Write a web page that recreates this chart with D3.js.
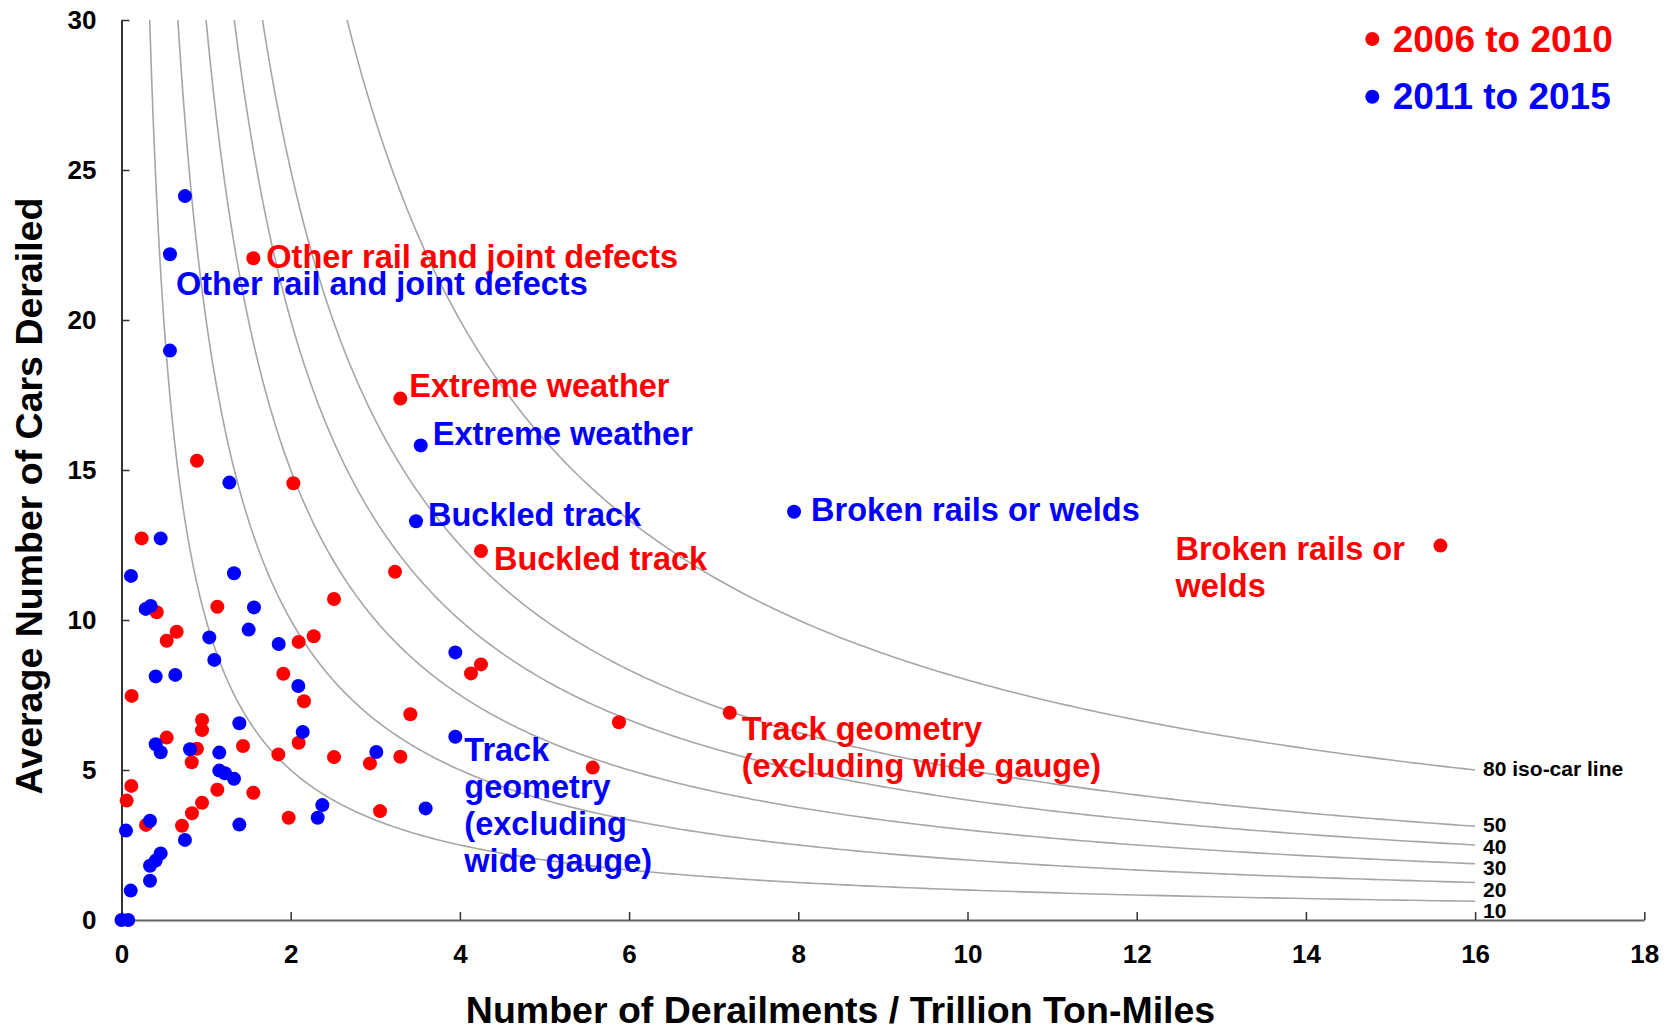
<!DOCTYPE html>
<html>
<head>
<meta charset="utf-8">
<script src="https://cdn.jsdelivr.net/npm/d3@7"></script>
<style>
  html, body { margin: 0; padding: 0; background: #fff; }
  svg { display: block; font-family: "Liberation Sans", Arial, sans-serif; font-weight: bold; }
</style>
</head>
<body>
<svg id="chart" width="1677" height="1031"></svg>
<script>
// ---------- DATA ----------
const xTicks = [0, 2, 4, 6, 8, 10, 12, 14, 16, 18];
const yTicks = [0, 5, 10, 15, 20, 25, 30];
const isoCarValues = [80, 50, 40, 30, 20, 10];
const isoCarLabels = ["80 iso-car line", "50", "40", "30", "20", "10"];
const seriesNames = ["2006 to 2010", "2011 to 2015"];

// 2006 to 2010 : [derailments per trillion ton-miles, average cars derailed]
const red2006 = [
  [1.558, 22.06], [3.296, 17.38], [0.892, 15.31], [2.031, 14.56], [4.249, 12.30],
  [0.238, 12.72], [3.233, 11.61], [2.512, 10.70], [0.416, 10.26], [1.133, 10.44],
  [0.652, 9.61], [0.534, 9.31], [2.094, 9.27], [2.272, 9.46], [4.249, 8.52],
  [4.131, 8.22], [1.913, 8.21], [2.157, 7.29], [0.120, 7.47], [3.414, 6.86],
  [0.952, 6.67], [0.952, 6.33], [0.534, 6.08], [2.094, 5.91], [0.892, 5.71],
  [1.436, 5.80], [1.854, 5.52], [0.830, 5.26], [2.512, 5.43], [2.937, 5.22],
  [3.296, 5.44], [0.116, 4.47], [0.061, 3.98], [1.133, 4.34], [1.558, 4.24],
  [0.952, 3.91], [0.833, 3.56], [1.976, 3.41], [3.056, 3.63], [0.290, 3.17],
  [0.715, 3.14], [5.880, 6.59], [5.570, 5.08], [7.190, 6.91], [15.59, 12.48]
];

// 2011 to 2015
const blue2011 = [
  [0.750, 24.13], [0.573, 22.19], [0.573, 18.98], [3.537, 15.82], [1.275, 14.58],
  [3.481, 13.29], [0.463, 12.72], [0.112, 11.47], [1.330, 11.56], [0.286, 10.37],
  [0.345, 10.47], [1.566, 10.42], [1.038, 9.42], [1.503, 9.68], [1.858, 9.20],
  [1.097, 8.67], [3.946, 8.92], [0.404, 8.12], [0.636, 8.17], [2.090, 7.80],
  [1.393, 6.56], [3.946, 6.11], [2.142, 6.27], [0.404, 5.86], [0.463, 5.59],
  [0.810, 5.69], [1.156, 5.58], [3.012, 5.60], [1.156, 4.98], [1.223, 4.89],
  [1.330, 4.71], [2.374, 3.83], [2.319, 3.41], [3.595, 3.72], [0.337, 3.31],
  [1.393, 3.18], [0.053, 2.98], [0.750, 2.67], [0.463, 2.22], [0.404, 1.98],
  [0.337, 1.81], [0.337, 1.31], [0.109, 0.98], [0.000, 0.00], [0.080, 0.00],
  [7.950, 13.61]
];

// Annotated causes: series, anchor point, text lines
const annoSeries = ["red", "blue", "red", "blue", "blue", "red", "blue", "red", "red", "blue"];
const annoPoints = [
  [1.558, 22.06], [0.573, 22.19], [3.296, 17.38], [3.537, 15.82], [3.481, 13.29],
  [4.249, 12.30], [7.950, 13.61], [15.59, 12.48], [7.190, 6.91], [3.946, 6.11]
];
const annoText = [
  ["Other rail and joint defects"],
  ["Other rail and joint defects"],
  ["Extreme weather"],
  ["Extreme weather"],
  ["Buckled track"],
  ["Buckled track"],
  ["Broken rails or welds"],
  ["Broken rails or", "welds"],
  ["Track geometry", "(excluding wide gauge)"],
  ["Track", "geometry", "(excluding", "wide gauge)"]
];

// ---------- LAYOUT / STYLE ----------
const colors = { red: "#ff0000", blue: "#0000ff" };
const annoOffsets = [ // pixel offsets of text start/baseline from anchor
  [13, 9.5], [6, 41], [9, -2], [12, 0], [12, 5],
  [13, 19], [17, 9], [-265, 14], [12, 27], [9, 24]
];
const lineGap = 37;

const svg = d3.select("#chart");
const x = d3.scaleLinear().domain([0, 18]).range([121.5, 1644.3]);
const y = d3.scaleLinear().domain([0, 30]).range([920, 20]);

// iso-car lines
const isoG = svg.append("g");
const line = d3.line().x(d => x(d[0])).y(d => y(d[1]));
const tSteps = d3.range(0, 1.0001, 0.0025);
isoCarValues.forEach(k => {
  const x0 = k / 30, x1 = 16;
  const pts = tSteps.map(t => {
    const xv = x0 * Math.pow(x1 / x0, t);
    return [xv, k / xv];
  });
  isoG.append("path").attr("d", line(pts))
    .attr("fill", "none").attr("stroke", "#a6a6a6").attr("stroke-width", 1.6);
});
// iso labels (stacked so they don't collide)
let prev = -Infinity;
isoCarValues.forEach((k, i) => {
  const end = y(k / 16);
  const cy = Math.max(end, prev + 21.4);
  prev = cy;
  svg.append("text").attr("x", x(16) + 8).attr("y", cy - 1.4)
    .attr("dominant-baseline", "central")
    .attr("font-size", 21).attr("fill", "#000")
    .text(isoCarLabels[i]);
});

// axes
const xAxis = d3.axisBottom(x).tickValues(xTicks).tickSize(-8).tickSizeOuter(0).tickPadding(25);
const yAxis = d3.axisLeft(y).tickValues(yTicks).tickSize(-8).tickSizeOuter(0).tickPadding(25);
const gx = svg.append("g").attr("transform", `translate(0,${y(0)})`).call(xAxis);
gx.select(".domain").attr("stroke", "#666").attr("stroke-width", 2.2);
gx.selectAll(".tick line").attr("stroke", "#333").attr("stroke-width", 1.5);
gx.selectAll(".tick text").attr("font-size", 26).attr("font-family", "Liberation Sans, Arial, sans-serif")
  .attr("font-weight", "bold").attr("fill", "#000");
const gy = svg.append("g").attr("transform", `translate(${x(0)},0)`).call(yAxis);
gy.select(".domain").attr("stroke", "#000").attr("stroke-width", 1.6);
gy.selectAll(".tick line").attr("stroke", "#333").attr("stroke-width", 1.5);
gy.selectAll(".tick text").attr("font-size", 26).attr("font-family", "Liberation Sans, Arial, sans-serif")
  .attr("font-weight", "bold").attr("fill", "#000");

// axis titles
svg.append("text").attr("x", 840.5).attr("y", 1023).attr("text-anchor", "middle")
  .attr("font-size", 37.5).attr("fill", "#000")
  .text("Number of Derailments / Trillion Ton-Miles");
svg.append("text").attr("transform", "translate(42,496) rotate(-90)").attr("text-anchor", "middle")
  .attr("font-size", 37.5).attr("fill", "#000")
  .text("Average Number of Cars Derailed");

// points
const dots = svg.append("g");
dots.selectAll("circle.red").data(red2006).join("circle").attr("class", "red")
  .attr("cx", d => x(d[0])).attr("cy", d => y(d[1])).attr("r", 7).attr("fill", colors.red);
dots.selectAll("circle.blue").data(blue2011).join("circle").attr("class", "blue")
  .attr("cx", d => x(d[0])).attr("cy", d => y(d[1])).attr("r", 7).attr("fill", colors.blue);

// annotations
annoText.forEach((lines, i) => {
  const px = x(annoPoints[i][0]) + annoOffsets[i][0];
  const py = y(annoPoints[i][1]) + annoOffsets[i][1];
  const t = svg.append("text").attr("font-size", 32.5).attr("fill", colors[annoSeries[i]]);
  lines.forEach((s, j) => {
    t.append("tspan").attr("x", px).attr("y", py + j * lineGap).text(s);
  });
});

// legend
const legend = svg.append("g");
seriesNames.forEach((name, i) => {
  const c = i === 0 ? colors.red : colors.blue;
  const cy = 39 + i * 57.7;
  legend.append("circle").attr("cx", 1372.3).attr("cy", cy).attr("r", 7).attr("fill", c);
  legend.append("text").attr("x", 1392.7).attr("y", cy + 12.7).attr("font-size", 37)
    .attr("fill", c).text(name);
});
</script>
</body>
</html>
